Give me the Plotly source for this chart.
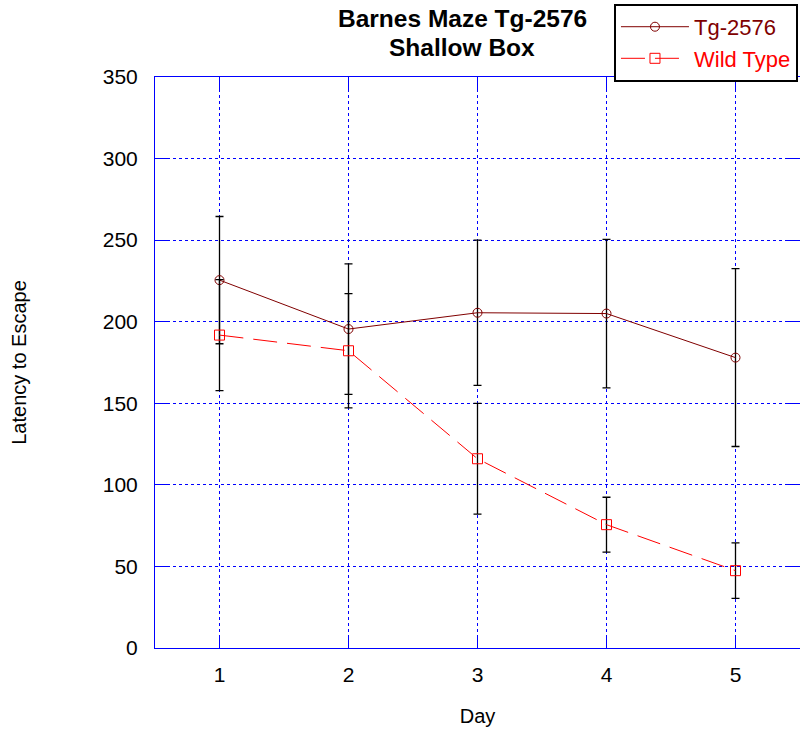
import plotly.graph_objects as go

# Mean latency to escape (s) per training day, with error bar half-widths
days = [1, 2, 3, 4, 5]
tg_mean = [225.5, 195.5, 205.5, 205.0, 178.0]
tg_err = [39.0, 40.0, 44.5, 45.5, 54.5]
wt_mean = [191.8, 182.2, 116.0, 75.6, 47.4]
wt_err = [34.0, 35.0, 34.0, 16.8, 17.0]

TG_COLOR = "#800000"
WT_COLOR = "#ff0000"
AXIS_BLUE = "#0000ff"
FONT = "Liberation Sans, Arial, sans-serif"

fig = go.Figure()

fig.add_trace(go.Scatter(
    x=days, y=tg_mean,
    name=f"<span style='color:{TG_COLOR}'>Tg-2576</span>",
    mode="lines+markers",
    line=dict(color=TG_COLOR, width=1),
    marker=dict(symbol="circle-open", size=9, color=TG_COLOR, line=dict(width=1)),
    error_y=dict(type="data", array=tg_err, color="black", thickness=1.3, width=4),
))

fig.add_trace(go.Scatter(
    x=days, y=wt_mean,
    name=f"<span style='color:{WT_COLOR}'>Wild Type</span>",
    mode="lines+markers",
    line=dict(color=WT_COLOR, width=1, dash="24px,10px"),
    marker=dict(symbol="square-open", size=10, color=WT_COLOR, line=dict(width=1)),
    error_y=dict(type="data", array=wt_err, color="black", thickness=1.3, width=4),
))

axis_common = dict(
    showline=True, linecolor=AXIS_BLUE, linewidth=1,
    showgrid=True, gridcolor=AXIS_BLUE, gridwidth=1, griddash="3px,3px",
    ticks="inside", ticklen=12, tickcolor=AXIS_BLUE, tickwidth=1,
    mirror="ticks", zeroline=False,
    tickfont=dict(family=FONT, size=21, color="black"),
)

# Two-line bold heading, centred over the plot
title_lines = ["Barnes Maze Tg-2576", "Shallow Box"]
title_y = [1.1033, 1.0525]
annotations = [
    dict(text=f"<b>{t}</b>", x=0.476, y=y, xref="paper", yref="paper",
         xanchor="center", yanchor="middle", showarrow=False,
         font=dict(family=FONT, size=24.5, color="black"))
    for t, y in zip(title_lines, title_y)
]

fig.update_layout(
    width=800, height=731,
    margin=dict(l=155, r=0, t=77, b=83),
    paper_bgcolor="white", plot_bgcolor="white",
    font=dict(family=FONT, color="black"),
    annotations=annotations,
    xaxis=dict(
        range=[0.5, 5.5], tickvals=days, ticktext=[str(d) for d in days],
        title=dict(text="Day", font=dict(family=FONT, size=20), standoff=23),
        ticklabelstandoff=8,
        **axis_common,
    ),
    yaxis=dict(
        range=[0, 350], tickvals=[0, 50, 100, 150, 200, 250, 300, 350],
        title=dict(text="Latency to Escape", font=dict(family=FONT, size=20), standoff=70),
        ticklabelstandoff=12,
        **axis_common,
    ),
    legend=dict(
        x=0.7116, y=1.128, xanchor="left", yanchor="top",
        bordercolor="black", borderwidth=2, bgcolor="white",
        font=dict(family=FONT, size=22),
        itemwidth=68, tracegroupgap=0,
    ),
    showlegend=True,
)

fig.write_html("out.html")
